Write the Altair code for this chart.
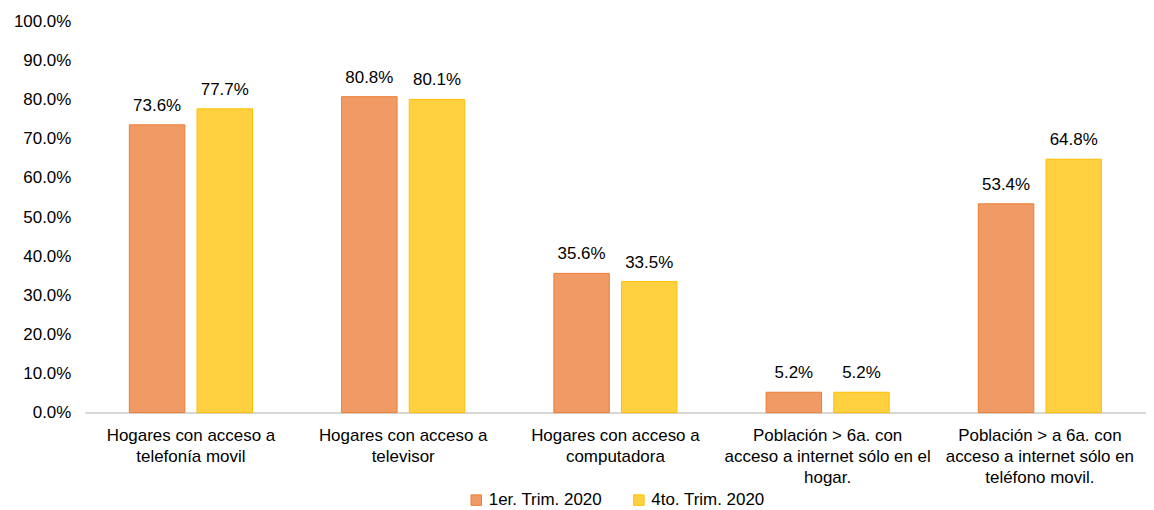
import altair as alt
import pandas as pd

categories = [
    "Hogares con acceso a|telefonía movil",
    "Hogares con acceso a|televisor",
    "Hogares con acceso a|computadora",
    "Población > 6a. con|acceso a internet sólo en el|hogar.",
    "Población > a 6a. con|acceso a internet sólo en|teléfono movil.",
]
series = ["1er. Trim. 2020", "4to. Trim. 2020"]
q1_values = [0.736, 0.808, 0.356, 0.052, 0.534]
q4_values = [0.777, 0.801, 0.335, 0.052, 0.648]
tick_values = [0.0, 0.1, 0.2, 0.3, 0.4, 0.5, 0.6, 0.7, 0.8, 0.9, 1.0]
colors = ["#F09A66", "#FFD040"]
strokes = ["#ED7D31", "#FFC000"]

rows = []
for c, a, b in zip(categories, q1_values, q4_values):
    rows.append({"cat": c, "serie": series[0], "val": a})
    rows.append({"cat": c, "serie": series[1], "val": b})
df = pd.DataFrame(rows)

FONT = "Liberation Sans"

x_enc = alt.X(
    "cat:N", sort=categories, title=None,
    scale=alt.Scale(paddingInner=0.42, paddingOuter=0.21),
    axis=alt.Axis(labelExpr="split(datum.label, '|')", labelAngle=0,
                  labelFontSize=17, labelColor="#000000", labelFont=FONT,
                  labelLineHeight=21, labelPadding=15, ticks=False,
                  domainColor="#C8C8C8", domainWidth=1.5, labelLimit=300),
)
xoff = alt.XOffset("serie:N", sort=series,
                   scale=alt.Scale(paddingInner=0.18, paddingOuter=0))
y_enc = alt.Y(
    "val:Q", title=None,
    scale=alt.Scale(domain=[0, 1], nice=False),
    axis=alt.Axis(format=".1%", values=tick_values, grid=False,
                  domain=False, ticks=False, labelFontSize=17, labelFont=FONT,
                  labelColor="#000000", labelPadding=14, labelOverlap=False,
                  labelBound=False, labelFlush=False),
)

bars = alt.Chart(df).mark_bar(strokeWidth=1).encode(
    x=x_enc, xOffset=xoff, y=y_enc,
    color=alt.Color("serie:N", sort=series, title=None,
                    scale=alt.Scale(domain=series, range=colors),
                    legend=alt.Legend(orient="none", direction="horizontal",
                                      legendX=384, legendY=471,
                                      symbolType="square", symbolSize=110,
                                      labelFontSize=17, labelFont=FONT,
                                      labelColor="#000000", columnPadding=28,
                                      symbolStrokeWidth=1)),
    stroke=alt.Stroke("serie:N", sort=series,
                      scale=alt.Scale(domain=series, range=strokes), legend=None),
)

text = alt.Chart(df).mark_text(dy=-19, fontSize=17, font=FONT, color="#000000").encode(
    x=x_enc, xOffset=xoff, y=y_enc,
    text=alt.Text("val:Q", format=".1%"),
)

chart = alt.layer(bars, text).properties(
    width=1064, height=392,
    padding={"left": 5, "top": 4, "right": 0, "bottom": 0},
).configure_view(stroke=None).configure_axis(labelOverlap=False)

chart.save("out.html", embed_options={"renderer": "svg", "actions": False})
